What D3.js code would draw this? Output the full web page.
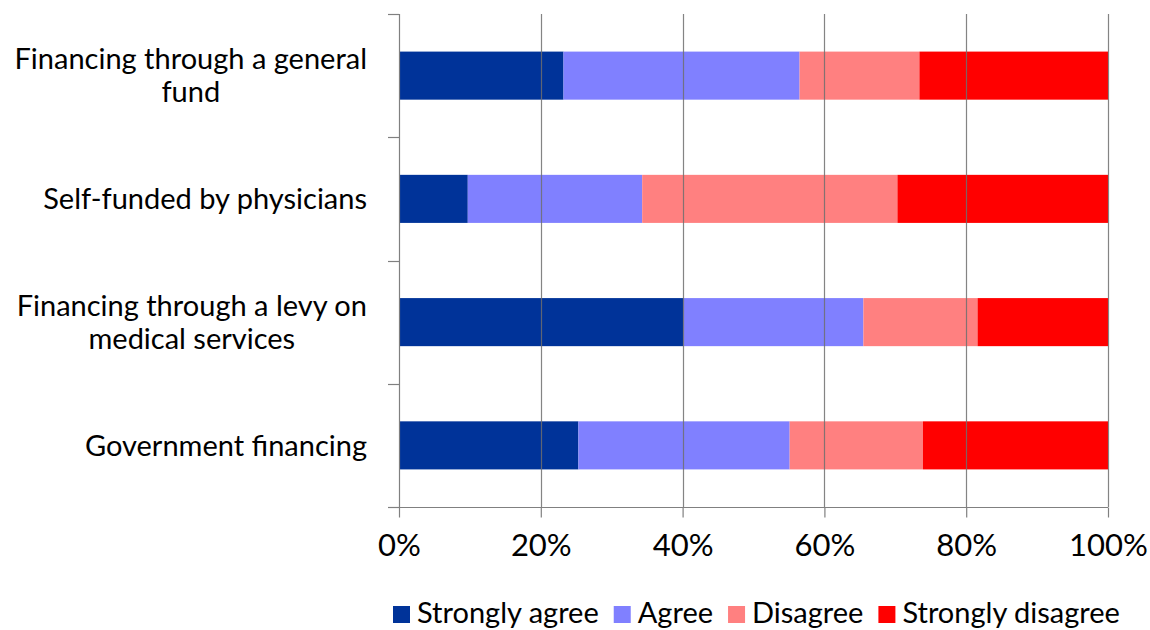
<!DOCTYPE html>
<html>
<head>
<meta charset="utf-8">
<script src="https://cdn.jsdelivr.net/npm/d3@7"></script>
<style>
  html, body { margin: 0; padding: 0; background: #fff; }
  svg { display: block; font-family: Lato, "Open Sans", sans-serif; }
</style>
</head>
<body>
<svg id="chart" width="1150" height="630"></svg>
<script>
const categories = [
  "Financing through a general fund",
  "Self-funded by physicians",
  "Financing through a levy on medical services",
  "Government financing"
];
const seriesNames = ["Strongly agree", "Agree", "Disagree", "Strongly disagree"];
const stronglyAgree    = [23.2,  9.7, 40.1, 25.3];
const agree            = [33.3, 24.6, 25.4, 29.8];
const disagree         = [16.9, 36.0, 16.1, 18.8];
const stronglyDisagree = [26.6, 29.7, 18.4, 26.1];
const xTicks = [0, 0.2, 0.4, 0.6, 0.8, 1.0];
const colors = ["#003399", "#8080ff", "#ff8080", "#ff0000"];

(function () {
const rows = categories.map((c, i) => {
  const total = stronglyAgree[i] + agree[i] + disagree[i] + stronglyDisagree[i];
  return {
    category: c,
    "Strongly agree": stronglyAgree[i] / total,
    "Agree": agree[i] / total,
    "Disagree": disagree[i] / total,
    "Strongly disagree": stronglyDisagree[i] / total
  };
});

const svg = d3.select("#chart");
const pLeft = 399, pRight = 1108, pTop = 14, pBottom = 507;
const fontSize = 29;
const tickFontSize = 31;

const x = d3.scaleLinear().domain([0, 1]).range([pLeft, pRight]);
const y = d3.scaleBand().domain(categories).range([pTop, pBottom])
  .paddingInner(0.61).paddingOuter(0.305);
const color = d3.scaleOrdinal().domain(seriesNames).range(colors);

const stacked = d3.stack().keys(seriesNames)(rows);

// bars
svg.append("g").selectAll("g").data(stacked).join("g")
  .attr("fill", d => color(d.key))
  .selectAll("rect").data(d => d).join("rect")
  .attr("x", d => x(d[0]))
  .attr("width", d => x(d[1]) - x(d[0]))
  .attr("y", d => y(d.data.category))
  .attr("height", y.bandwidth());

// vertical gridlines (drawn over bars)
svg.append("g").selectAll("line").data(xTicks.slice(1)).join("line")
  .attr("x1", d => Math.round(x(d)) + 0.5).attr("x2", d => Math.round(x(d)) + 0.5)
  .attr("y1", pTop).attr("y2", pBottom)
  .attr("stroke", "#6f6f6f").attr("stroke-opacity", 0.85).attr("stroke-width", 1.2);

// bottom axis
const xAxis = d3.axisBottom(x).tickValues(xTicks).tickFormat(d3.format(".0%"))
  .tickSize(10).tickPadding(16);
const gx = svg.append("g").attr("transform", `translate(0,${pBottom + 0.5})`).call(xAxis);
gx.select(".domain").attr("stroke", "#808080").attr("stroke-width", 1.2)
  .attr("d", `M${pLeft},0H${pRight}`);
gx.selectAll(".tick line").attr("stroke", "#808080").attr("stroke-width", 1.2);
gx.selectAll(".tick text").attr("font-size", tickFontSize).attr("fill", "#000")
  .attr("font-family", "Lato, sans-serif").attr("dy", "0.71em");

// left axis line + category boundary ticks
svg.append("line").attr("x1", pLeft + 0.5).attr("x2", pLeft + 0.5)
  .attr("y1", pTop).attr("y2", pBottom)
  .attr("stroke", "#808080").attr("stroke-width", 1.2);
const boundaries = d3.range(categories.length + 1).map(i => pTop + i * (pBottom - pTop) / categories.length);
svg.append("g").selectAll("line").data(boundaries).join("line")
  .attr("x1", pLeft - 11).attr("x2", pLeft)
  .attr("y1", d => Math.round(d) + 0.5).attr("y2", d => Math.round(d) + 0.5)
  .attr("stroke", "#808080").attr("stroke-width", 1.2);

// category labels with wrapping
const labelRight = 367, maxW = 362, lineH = 33;
const labelG = svg.append("g").attr("font-size", fontSize).attr("fill", "#000");
categories.forEach(cat => {
  const words = cat.split(" ");
  const lines = [];
  let cur = [];
  const t = labelG.append("text").attr("visibility", "hidden");
  words.forEach(w => {
    const trial = cur.concat([w]).join(" ");
    t.text(trial);
    if (t.node().getComputedTextLength() > maxW && cur.length) {
      lines.push(cur.join(" "));
      cur = [w];
    } else {
      cur.push(w);
    }
  });
  lines.push(cur.join(" "));
  let widest = 0;
  lines.forEach(l => { t.text(l); widest = Math.max(widest, t.node().getComputedTextLength()); });
  t.remove();
  const cx = labelRight - widest / 2;
  const cy = y(cat) + y.bandwidth() / 2;
  const text = labelG.append("text").attr("text-anchor", "middle");
  lines.forEach((l, i) => {
    text.append("tspan").attr("x", cx)
      .attr("y", cy + (i - (lines.length - 1) / 2) * lineH)
      .attr("dy", "0.35em").text(l);
  });
});

// legend
const legend = svg.append("g").attr("font-size", fontSize).attr("fill", "#000");
let lx = 393;
seriesNames.forEach(name => {
  legend.append("rect").attr("x", lx).attr("y", 606).attr("width", 17).attr("height", 17)
    .attr("fill", color(name));
  const t = legend.append("text").attr("x", lx + 24).attr("y", 623).text(name);
  const w = t.node().getComputedTextLength();
  lx = lx + 24 + w + 15;
});
})();
</script>
</body>
</html>
